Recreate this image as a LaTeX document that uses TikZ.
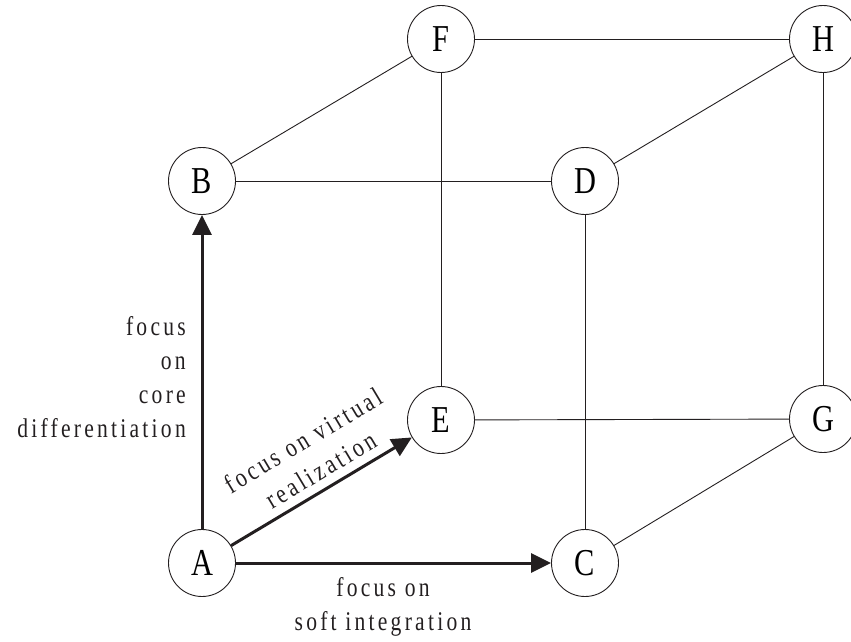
\documentclass[tikz,border=0pt]{standalone}
\usepackage{fontspec}
\setmainfont{Liberation Serif}
\newfontfamily\vtxfont[FakeStretch=0.8]{Liberation Serif}
\newfontfamily\lblfont[FakeStretch=0.8,LetterSpace=12]{Liberation Serif}
\usetikzlibrary{arrows.meta}
\definecolor{ink}{RGB}{35,31,32}
\begin{document}
\begin{tikzpicture}[x=1pt,y=-1pt,
  vtx/.style={circle,draw=ink,line width=0.9pt,minimum size=67pt,inner sep=0pt,
    font=\vtxfont\fontsize{38}{38}\selectfont},
  edge/.style={draw=ink,line width=0.9pt},
  focusarrow/.style={draw=ink,line width=3pt,-{Triangle[length=20pt,width=19pt]}},
  lbl/.style={font=\lblfont\fontsize{27}{34}\selectfont,inner sep=0pt,text=ink}]
\useasboundingbox (0,0) rectangle (851,642);

% cube vertices
\node[vtx] (A) at (202,563) {A};
\node[vtx] (B) at (202,181) {B};
\node[vtx] (C) at (585,563) {C};
\node[vtx] (D) at (585,181) {D};
\node[vtx] (E) at (441,420) {E};
\node[vtx] (F) at (441,39)  {F};
\node[vtx] (G) at (823,419) {G};
\node[vtx] (H) at (823,39)  {H};

% cube edges
\draw[edge] (B) -- (F);
\draw[edge] (B) -- (D);
\draw[edge] (F) -- (H);
\draw[edge] (D) -- (H);
\draw[edge] (F) -- (E);
\draw[edge] (D) -- (C);
\draw[edge] (H) -- (G);
\draw[edge] (E) -- (G);
\draw[edge] (C) -- (G);

% the three focus directions
\draw[focusarrow] (A) -- (B);
\draw[focusarrow] (A) -- (C);
\draw[focusarrow] (A) -- (E);

% labels
\node[lbl,align=right,anchor=north east] (lcore) at (186,316)
  {focus\\on\\core\\differentiation};
\node[lbl,align=center,anchor=north] (lsoft) at (383,577)
  {focus on\\soft integration};
\node[lbl,align=center,rotate=30.9] (lvirt) at (312,455)
  {focus on virtual\\realization};
\end{tikzpicture}
\end{document}
